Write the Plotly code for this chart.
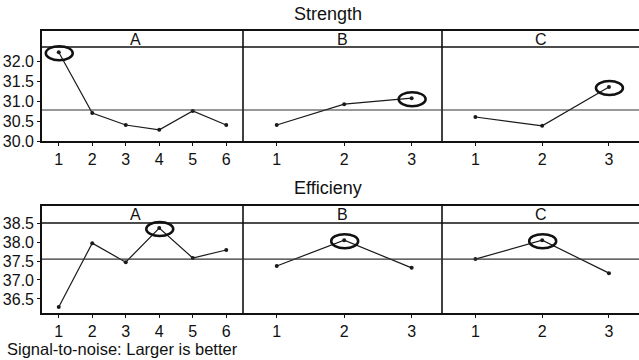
import plotly.graph_objects as go

# ---- data ----
factors = ["A", "B", "C"]
levels_A = [1, 2, 3, 4, 5, 6]
levels_BC = [1, 2, 3]

strength_A = [32.22, 30.70, 30.40, 30.28, 30.75, 30.40]
strength_B = [30.40, 30.92, 31.07]
strength_C = [30.60, 30.38, 31.35]
strength_mean = 30.775

eff_A = [36.29, 37.97, 37.47, 38.37, 37.58, 37.79]
eff_B = [37.37, 38.05, 37.32]
eff_C = [37.55, 38.05, 37.18]
eff_mean = 37.55

strength_ticks = [30.0, 30.5, 31.0, 31.5, 32.0]
eff_ticks = [36.5, 37.0, 37.5, 38.0, 38.5]

titles = ["Strength", "Efficieny"]
footer = "Signal-to-noise: Larger is better"

# ---- layout geometry ----
W, H = 639, 360
FONT = "Liberation Sans, Arial, sans-serif"
xdom = [[42 / W, 243 / W], [243 / W, 442 / W], [442 / W, 1.0]]
xranges = [[0.5, 6.5], [0.5, 3.45], [0.5, 3.45]]
ydoms = [[1 - 141 / H, 1 - 31 / H], [1 - 313 / H, 1 - 206 / H]]
yranges = [[30.0, 32.75], [36.13, 38.95]]
strip_y = [32.35, 38.5]
means = [strength_mean, eff_mean]
yticks = [strength_ticks, eff_ticks]

rows = [
    [(levels_A, strength_A), (levels_BC, strength_B), (levels_BC, strength_C)],
    [(levels_A, eff_A), (levels_BC, eff_B), (levels_BC, eff_C)],
]

LC = "#111"
LW = 1.6

fig = go.Figure()
layout = {}
shapes = []
annotations = []

k = 0
for r in range(2):
    for c in range(3):
        k += 1
        xa = "xaxis" if k == 1 else f"xaxis{k}"
        ya = "yaxis" if k == 1 else f"yaxis{k}"
        xr = "x" if k == 1 else f"x{k}"
        yr = "y" if k == 1 else f"y{k}"
        xs, ys = rows[r][c]
        fig.add_trace(go.Scatter(
            x=xs, y=ys, xaxis=xr, yaxis=yr, mode="lines+markers",
            line=dict(color="#1a1a1a", width=1.2),
            marker=dict(color="#1a1a1a", size=4),
            showlegend=False, hoverinfo="skip"))
        layout[xa] = dict(
            domain=xdom[c], range=xranges[c], anchor=yr, automargin=False,
            tickvals=xs, ticktext=[str(v) for v in xs],
            showline=True, mirror=True, linecolor=LC, linewidth=LW,
            ticks="outside", ticklen=3, tickcolor=LC,
            showgrid=False, zeroline=False,
            tickfont=dict(family=FONT, size=16, color=LC))
        layout[ya] = dict(
            domain=ydoms[r], range=yranges[r], anchor=xr, automargin=False,
            tickvals=yticks[r], ticktext=[f"{v:.1f}" for v in yticks[r]],
            showticklabels=(c == 0), ticks="outside" if c == 0 else "",
            ticklen=3, tickcolor=LC,
            showline=(c == 0), mirror=False, linecolor=LC, linewidth=LW,
            showgrid=False, zeroline=False,
            tickfont=dict(family=FONT, size=16, color=LC))
        # best level ellipse
        i = max(range(len(ys)), key=lambda j: ys[j])
        shapes.append(dict(
            type="circle", xref=xr, yref=yr,
            xsizemode="pixel", ysizemode="pixel",
            xanchor=xs[i], yanchor=ys[i],
            x0=-13, x1=14, y0=-8, y1=6,
            line=dict(color=LC, width=2.5)))
        # strip label
        annotations.append(dict(
            x=sum(xranges[c]) / 2 if c > 0 else 3.3, xref=xr,
            y=(strip_y[r] + yranges[r][1]) / 2, yref=yr,
            yanchor="middle",
            text=factors[c], showarrow=False,
            font=dict(family=FONT, size=16, color=LC)))
    # panel separators
    for xs_ in (243 / W, 442 / W):
        shapes.append(dict(type="line", xref="paper", yref="paper",
                           x0=xs_, x1=xs_, y0=ydoms[r][0], y1=ydoms[r][1],
                           line=dict(color=LC, width=LW)))
    # strip bottom line and mean line across the row
    k0 = r * 3 + 1
    yref_row = "y" if k0 == 1 else f"y{k0}"
    shapes.append(dict(type="line", xref="paper", yref=yref_row,
                       x0=42 / W, x1=1.0, y0=strip_y[r], y1=strip_y[r],
                       line=dict(color=LC, width=LW)))
    shapes.append(dict(type="line", xref="paper", yref=yref_row,
                       x0=42 / W, x1=1.0, y0=means[r], y1=means[r],
                       line=dict(color="#333", width=1.1)))

annotations.append(dict(x=328 / W, y=1 - 14 / H, xref="paper", yref="paper",
                        yanchor="middle", text=titles[0], showarrow=False,
                        font=dict(family=FONT, size=18, color=LC)))
annotations.append(dict(x=328 / W, y=1 - 188 / H, xref="paper", yref="paper",
                        yanchor="middle", text=titles[1], showarrow=False,
                        font=dict(family=FONT, size=18, color=LC)))
annotations.append(dict(x=5 / W, y=1 - 349 / H, xref="paper", yref="paper",
                        xanchor="left", yanchor="middle", text=footer,
                        showarrow=False,
                        font=dict(family=FONT, size=16.5, color=LC)))

fig.update_layout(
    width=W, height=H,
    margin=dict(l=0, r=0, t=0, b=0, autoexpand=False),
    paper_bgcolor="white", plot_bgcolor="white",
    shapes=shapes, annotations=annotations,
    **layout)

fig.write_html("out.html",
               config={"displayModeBar": False},
               post_script="document.body.style.margin='0';"
                           "document.body.style.overflow='hidden';")
